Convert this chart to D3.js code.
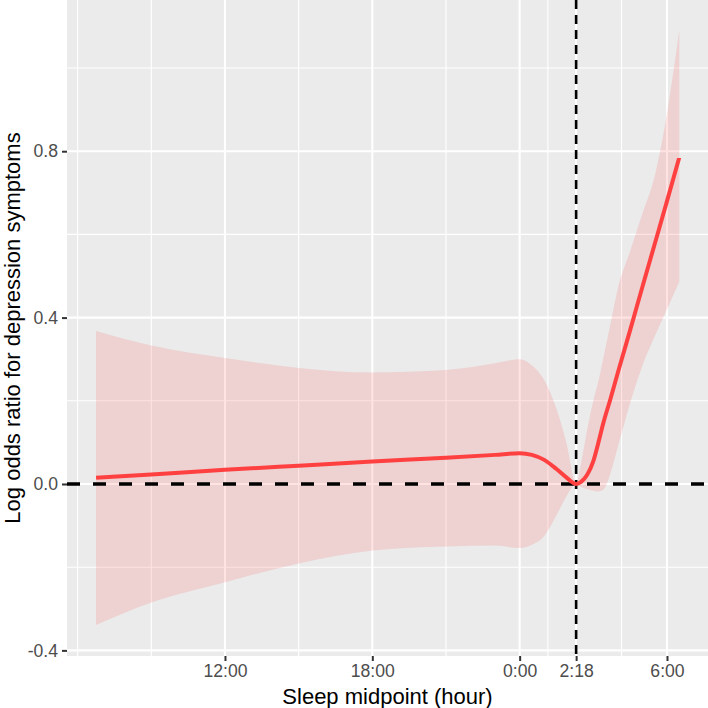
<!DOCTYPE html>
<head>
    <script src="https://d3js.org/d3.v7.min.js"></script>
    <style>
        body { margin: 0; background: #fff; }
        svg { display: block; font-family: "Liberation Sans", Arial, sans-serif; }
    </style>
</head>
<body>
    <script>
        // data: sleep midpoint in hours (24 = midnight, 30 = 6:00 next morning)
        const hours = [6.75, 9, 12, 15, 18, 21, 23, 24, 24.5, 25, 25.5, 25.9, 26.3,
            26.5, 26.75, 27, 27.2, 27.4, 27.7, 28, 28.5, 29, 29.5, 30, 30.5];
        const fit = [0.015, 0.023, 0.034, 0.044, 0.054, 0.063, 0.070, 0.074, 0.070, 0.058, 0.036, 0.016, 0,
            0.005, 0.022, 0.055, 0.098, 0.145, 0.205, 0.268, 0.37, 0.474, 0.577, 0.68, 0.785];
        const upper = [0.368, 0.333, 0.303, 0.279, 0.268, 0.274, 0.290, 0.300, 0.285, 0.250, 0.180, 0.100, 0,
            0.05, 0.13, 0.20, 0.245, 0.30, 0.385, 0.47, 0.56, 0.65, 0.74, 0.89, 1.09];
        const lower = [-0.339, -0.285, -0.236, -0.191, -0.160, -0.150, -0.148, -0.154, -0.146, -0.125, -0.075, -0.03, 0,
            -0.007, -0.012, -0.016, -0.018, -0.014, 0.026, 0.09, 0.195, 0.285, 0.355, 0.42, 0.486];

        // axis breaks and labels
        const xTicks = [12, 18, 24, 26.3, 30];
        const xLabels = ["12:00", "18:00", "0:00", "2:18", "6:00"];
        const xMinor = [6, 9, 15, 21, 25.15, 28.15];
        const yTicks = [-0.4, 0, 0.4, 0.8];
        const yLabels = ["-0.4", "0.0", "0.4", "0.8"];
        const yMinor = [-0.2, 0.2, 0.6, 1.0];
        const refX = 26.3;   // 2:18
        const refY = 0;

        const data = hours.map((h, i) => ({ h: h, fit: fit[i], lo: lower[i], hi: upper[i] }));

        // svg and panel
        const W = 708, H = 708;
        const margin = { top: 0, right: 0, bottom: 52, left: 67 };
        const width = W - margin.left - margin.right;
        const height = H - margin.top - margin.bottom;

        const svg = d3.select("body")
            .append("svg")
            .attr("width", W)
            .attr("height", H);

        const chart = svg.append("g")
            .attr("transform", `translate(${margin.left},${margin.top})`);

        // scales (ggplot style 5% expansion)
        const xScale = d3.scaleLinear()
            .domain([5.567, 31.67])
            .range([0, width]);
        const yScale = d3.scaleLinear()
            .domain([-0.4135, 1.1635])
            .range([height, 0]);

        // panel background
        chart.append("rect")
            .attr("width", width)
            .attr("height", height)
            .attr("fill", "#EBEBEB");

        // minor grid
        chart.selectAll(".xminor").data(xMinor).enter().append("line")
            .attr("x1", d => xScale(d)).attr("x2", d => xScale(d))
            .attr("y1", 0).attr("y2", height)
            .attr("stroke", "#fff").attr("stroke-width", 1.1);
        chart.selectAll(".yminor").data(yMinor).enter().append("line")
            .attr("x1", 0).attr("x2", width)
            .attr("y1", d => yScale(d)).attr("y2", d => yScale(d))
            .attr("stroke", "#fff").attr("stroke-width", 1.1);

        // major grid
        chart.selectAll(".xmajor").data(xTicks).enter().append("line")
            .attr("x1", d => xScale(d)).attr("x2", d => xScale(d))
            .attr("y1", 0).attr("y2", height)
            .attr("stroke", "#fff").attr("stroke-width", 2.1);
        chart.selectAll(".ymajor").data(yTicks).enter().append("line")
            .attr("x1", 0).attr("x2", width)
            .attr("y1", d => yScale(d)).attr("y2", d => yScale(d))
            .attr("stroke", "#fff").attr("stroke-width", 2.1);

        // confidence ribbon
        const area = d3.area()
            .x(d => xScale(d.h))
            .y0(d => yScale(d.lo))
            .y1(d => yScale(d.hi))
            .curve(d3.curveMonotoneX);

        chart.append("path")
            .datum(data)
            .attr("fill", "#ff3a3a")
            .attr("fill-opacity", 0.15)
            .attr("d", area);

        // reference lines
        chart.append("line")
            .attr("x1", 0).attr("x2", width)
            .attr("y1", yScale(refY)).attr("y2", yScale(refY))
            .attr("stroke", "#000")
            .attr("stroke-width", 3.3)
            .attr("stroke-dasharray", "13,13");

        chart.append("line")
            .attr("x1", xScale(refX)).attr("x2", xScale(refX))
            .attr("y1", 0).attr("y2", height)
            .attr("stroke", "#000")
            .attr("stroke-width", 2.6)
            .attr("stroke-dasharray", "9,6");

        // fitted curve
        const line = d3.line()
            .x(d => xScale(d.h))
            .y(d => yScale(d.fit))
            .curve(d3.curveMonotoneX);

        chart.append("path")
            .datum(data)
            .attr("fill", "none")
            .attr("stroke", "#FF4040")
            .attr("stroke-width", 4)
            .attr("d", line);

        // x axis
        const xAxis = chart.append("g")
            .attr("transform", `translate(0,${height})`)
            .call(d3.axisBottom(xScale)
                .tickValues(xTicks)
                .tickFormat((d, i) => xLabels[i])
                .tickSize(5)
                .tickPadding(4));

        // y axis
        const yAxis = chart.append("g")
            .call(d3.axisLeft(yScale)
                .tickValues(yTicks)
                .tickFormat((d, i) => yLabels[i])
                .tickSize(5)
                .tickPadding(4));

        [xAxis, yAxis].forEach(ax => {
            ax.select(".domain").remove();
            ax.selectAll(".tick line").attr("stroke", "#333333").attr("stroke-width", 2);
            ax.selectAll(".tick text")
                .attr("fill", "#4D4D4D")
                .style("font-size", "17.6px")
                .style("font-family", "'Liberation Sans', Arial, sans-serif");
        });

        // axis titles
        svg.append("text")
            .attr("x", margin.left + width / 2)
            .attr("y", 704)
            .attr("text-anchor", "middle")
            .attr("fill", "#000")
            .style("font-size", "22px")
            .text("Sleep midpoint (hour)");

        svg.append("text")
            .attr("transform", `translate(20,${margin.top + height / 2}) rotate(-90)`)
            .attr("text-anchor", "middle")
            .attr("fill", "#000")
            .style("font-size", "22px")
            .text("Log odds ratio for depression symptoms");
    </script>
</body>
